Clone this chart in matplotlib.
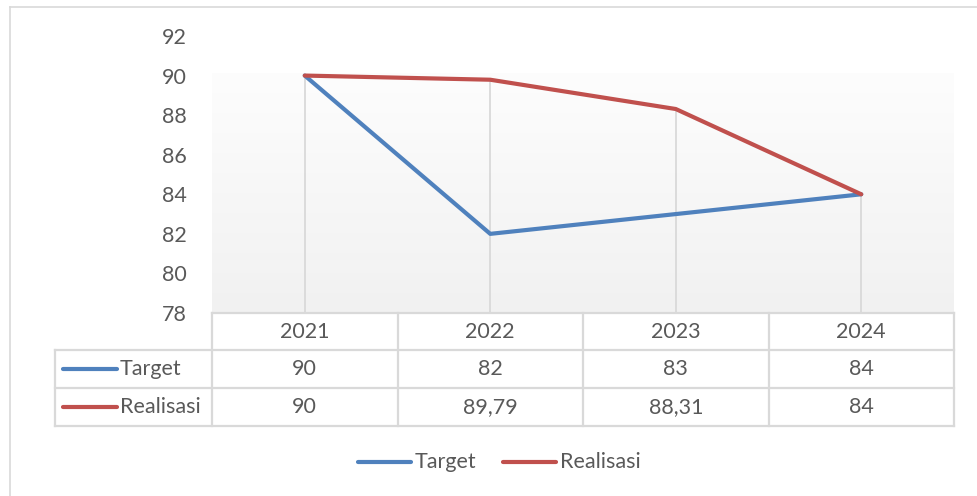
import numpy as np
import matplotlib.pyplot as plt
from matplotlib.colors import LinearSegmentedColormap

years = ["2021", "2022", "2023", "2024"]
target = [90, 82, 83, 84]
realisasi = [90, 89.79, 88.31, 84]
target_labels = ["90", "82", "83", "84"]
realisasi_labels = ["90", "89,79", "88,31", "84"]
yticks = [78, 80, 82, 84, 86, 88, 90, 92]

blue = "#4F81BD"
red = "#C0504D"
txt = "#595959"
grid = "#D9D9D9"
fs = 15.5

plt.rcParams["font.family"] = ["Lato", "DejaVu Sans"]

W, H = 977, 496
fig = plt.figure(figsize=(W / 100, H / 100), dpi=100)

# plot area in pixels
px0, px1, py0, py1 = 212, 954, 36, 313
ax = fig.add_axes([px0 / W, 1 - py1 / H, (px1 - px0) / W, (py1 - py0) / H])
ax.set_xlim(-0.5, len(years) - 0.5)
ax.set_ylim(78, 92)

# gradient fill of plot area (white top -> light grey bottom)
cmap = LinearSegmentedColormap.from_list("bg", ["#FDFDFD", "#F1F1F1"])
grad = np.linspace(0, 1, 256).reshape(-1, 1)
ax.imshow(grad, cmap=cmap, aspect="auto", extent=(-0.5, len(years) - 0.5, 78, 90.1),
          origin="upper", zorder=0, interpolation="bicubic")

x = np.arange(len(years))
# drop lines
for i in x:
    ax.plot([i, i], [78, max(target[i], realisasi[i])], color=grid, lw=1.3, zorder=1)
ax.plot(x, target, color=blue, lw=3, solid_capstyle="round", zorder=3)
ax.plot(x, realisasi, color=red, lw=3, solid_capstyle="round", zorder=3)

ax.set_yticks(yticks)
ax.set_xticks([])
ax.tick_params(axis="y", length=0, pad=18, labelsize=fs, labelcolor=txt)
for s in ax.spines.values():
    s.set_visible(False)

# overlays for frame, table and legend (pixel coordinates)
ov = fig.add_axes([0, 0, 1, 1], zorder=-1)
ov.set_xlim(0, W)
ov.set_ylim(H, 0)
ov.axis("off")
ov2 = fig.add_axes([0, 0, 1, 1])
ov2.set_xlim(0, W)
ov2.set_ylim(H, 0)
ov2.axis("off")
ov2.patch.set_alpha(0)

# outer frame
ov.plot([10, W], [7, 7], color=grid, lw=1.2)
ov.plot([10, 10], [7, H], color=grid, lw=1.2)

# data table
cols = np.linspace(px0, px1, len(years) + 1)
rows = [313, 350, 388, 426]
tl = 55
lk = dict(color=grid, lw=1.6, solid_capstyle="projecting")
ov2.plot([px0, px1], [rows[0], rows[0]], **lk)
for r in rows[1:]:
    ov2.plot([tl, px1], [r, r], **lk)
ov2.plot([tl, tl], [rows[1], rows[3]], **lk)
for c in cols:
    ov2.plot([c, c], [rows[0], rows[3]], **lk)

centers = (cols[:-1] + cols[1:]) / 2
cy = [(rows[k] + rows[k + 1]) / 2 for k in range(3)]
for i in range(len(years)):
    ov2.text(centers[i], cy[0], years[i], ha="center", va="center", fontsize=fs, color=txt)
    ov2.text(centers[i], cy[1], target_labels[i], ha="center", va="center", fontsize=fs, color=txt)
    ov2.text(centers[i], cy[2], realisasi_labels[i], ha="center", va="center", fontsize=fs, color=txt)

for k, (name, col) in enumerate([("Target", blue), ("Realisasi", red)]):
    ov2.plot([63, 117], [cy[k + 1], cy[k + 1]], color=col, lw=3, solid_capstyle="round")
    ov2.text(120, cy[k + 1], name, ha="left", va="center", fontsize=fs, color=txt)

# legend
ly = 462
ov2.plot([358, 411], [ly, ly], color=blue, lw=3, solid_capstyle="round")
ov2.text(415, ly, "Target", ha="left", va="center", fontsize=fs, color=txt)
ov2.plot([503, 556], [ly, ly], color=red, lw=3, solid_capstyle="round")
ov2.text(560, ly, "Realisasi", ha="left", va="center", fontsize=fs, color=txt)

fig.savefig("out.png", dpi=100)
